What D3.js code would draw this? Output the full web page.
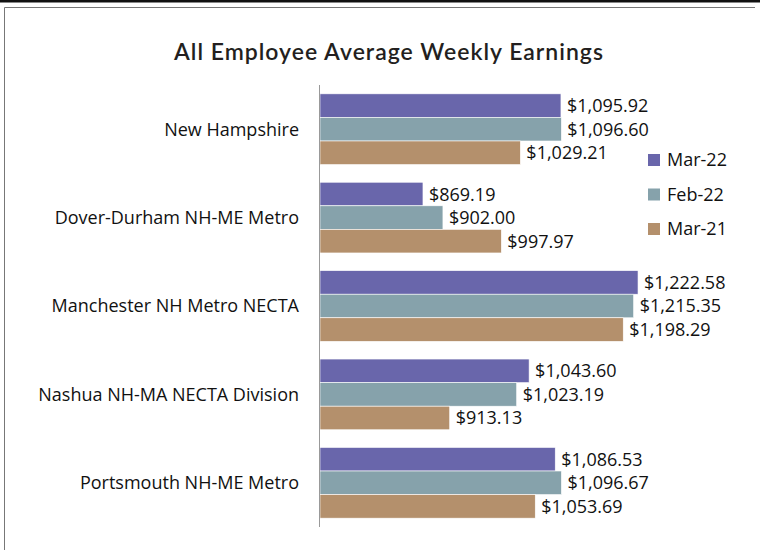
<!DOCTYPE html>
<html>
<head>
<meta charset="utf-8">
<script src="https://cdn.jsdelivr.net/npm/d3@7"></script>
<style>
  body { margin: 0; background: #fff; }
  svg { display: block; }
</style>
</head>
<body>
<div id="chart"></div>
<script>
// data
var regions = ['New Hampshire', 'Dover-Durham NH-ME Metro', 'Manchester NH Metro NECTA',
  'Nashua NH-MA NECTA Division', 'Portsmouth NH-ME Metro'];
var seriesNames = ['Mar-22', 'Feb-22', 'Mar-21'];
var mar22 = [1095.92, 869.19, 1222.58, 1043.60, 1086.53];
var feb22 = [1096.60, 902.00, 1215.35, 1023.19, 1096.67];
var mar21 = [1029.21, 997.97, 1198.29, 913.13, 1053.69];
var colors = ['#6966ab', '#86a2ab', '#b4906c'];

//common vars
var W = 760, H = 550;
var m = { top: 85, bottom: 527, left: 320, right: 746 };
var font = '"Open Sans", sans-serif';

var svg = d3.select('#chart').append('svg')
  .attr('width', W)
  .attr('height', H);

//frame
svg.append('rect').attr('x', 0).attr('y', 0).attr('width', W).attr('height', 2.5).style('fill', '#111');
svg.append('path')
  .attr('d', 'M4.5,' + H + 'V7.5H755')
  .style('fill', 'none').style('stroke', '#777').style('stroke-width', 1);

//title
svg.append('text')
  .attr('x', 389).attr('y', 60)
  .attr('text-anchor', 'middle')
  .style('font-family', 'Lato, sans-serif')
  .style('font-weight', 600)
  .style('font-size', '23px')
  .style('letter-spacing', '1px')
  .style('fill', '#231f20')
  .text('All Employee Average Weekly Earnings');

//scales
var x = d3.scaleLinear().domain([700, 1400]).range([m.left, m.right]);
var y0 = d3.scaleBand().domain(regions).range([m.top, m.bottom]).paddingInner(0.2).paddingOuter(0.1);
var y1 = d3.scaleBand().domain(seriesNames).range([0, y0.bandwidth()]);

var table = regions.map(function(r, i) {
  return { region: r, values: [mar22[i], feb22[i], mar21[i]] };
});

var fmt = function(v) { return '$' + d3.format(',.2f')(v); };

var groups = svg.selectAll('.grp')
  .data(table)
  .enter().append('g')
  .attr('class', 'grp')
  .attr('transform', function(d) { return 'translate(0,' + y0(d.region) + ')'; });

groups.selectAll('rect')
  .data(function(d) { return d.values.map(function(v, i) { return { v: v, s: seriesNames[i], c: colors[i] }; }); })
  .enter().append('rect')
  .attr('x', x(700))
  .attr('y', function(d) { return y1(d.s); })
  .attr('width', function(d) { return x(d.v) - x(700); })
  .attr('height', y1.bandwidth())
  .style('fill', function(d) { return d.c; })
  .style('stroke', '#fff')
  .style('stroke-width', 0.6);

groups.selectAll('.val')
  .data(function(d) { return d.values.map(function(v, i) { return { v: v, s: seriesNames[i] }; }); })
  .enter().append('text')
  .attr('class', 'val')
  .attr('x', function(d) { return x(d.v) + 6; })
  .attr('y', function(d) { return y1(d.s) + y1.bandwidth() / 2; })
  .attr('dy', '0.36em')
  .style('font-family', font)
  .style('font-size', '18px')
  .style('fill', '#111')
  .text(function(d) { return fmt(d.v); });

//category labels
groups.append('text')
  .attr('x', 299)
  .attr('y', y0.bandwidth() / 2)
  .attr('dy', '0.36em')
  .attr('text-anchor', 'end')
  .style('font-family', font)
  .style('font-size', '18px')
  .style('fill', '#111')
  .text(function(d) { return d.region; });

//axis line
svg.append('line')
  .attr('x1', x(700) - 0.5).attr('x2', x(700) - 0.5)
  .attr('y1', m.top).attr('y2', m.bottom)
  .style('stroke', '#999').style('stroke-width', 1);

//legend
var legend = svg.selectAll('.leg')
  .data(seriesNames)
  .enter().append('g')
  .attr('class', 'leg')
  .attr('transform', function(d, i) { return 'translate(648,' + (154 + i * 34.5) + ')'; });

legend.append('rect')
  .attr('width', 12).attr('height', 12)
  .style('fill', function(d, i) { return colors[i]; });

legend.append('text')
  .attr('x', 19).attr('y', 6)
  .attr('dy', '0.36em')
  .style('font-family', font)
  .style('font-size', '18px')
  .style('fill', '#111')
  .text(function(d) { return d; });
</script>
</body>
</html>
